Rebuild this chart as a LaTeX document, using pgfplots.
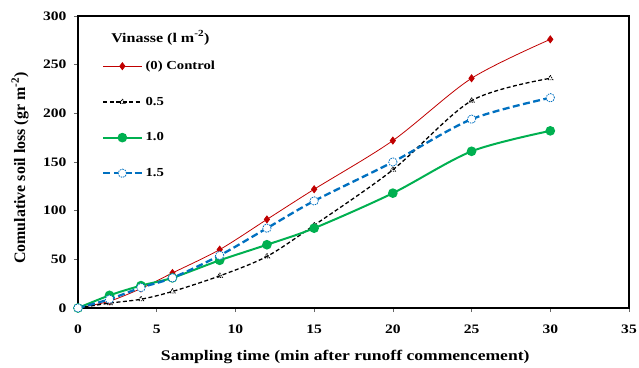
\documentclass[border=0pt]{standalone}
\usepackage{fontspec}
\setmainfont{Liberation Serif}[FakeStretch=1.2]
\newfontfamily\narrowserif{Liberation Serif}
\usepackage{pgfplots}
\pgfplotsset{compat=1.18}
\definecolor{cred}{HTML}{C00000}
\definecolor{cgreen}{HTML}{00B050}
\definecolor{cblue}{HTML}{0070C0}
\begin{document}
\begin{tikzpicture}
\begin{axis}[
  scale only axis,
  width=551bp, height=292bp,
  xmin=0, xmax=35, ymin=0, ymax=300,
  xtick={0,5,...,35}, ytick={0,50,...,300},
  tick align=outside, tick pos=left,
  major tick length=4bp,
  axis line style={line width=1.2pt},
  tick style={black!60, line width=0.6pt},
  /pgf/number format/assume math mode=true,
  font=\bfseries\fontsize{13}{15}\selectfont,
  ticklabel style={font=\bfseries\fontsize{13}{15}\selectfont},
  xticklabel style={yshift=-9bp},
  yticklabel style={xshift=-4bp},
  xlabel={Sampling time (min after runoff commencement)},
  ylabel={Comulative soil loss (gr m\textsuperscript{-2})},
  xlabel style={at={(axis description cs:0.485,-0.168)}, anchor=center, font=\bfseries\fontsize{14.7}{16}\selectfont},
  ylabel style={at={(axis description cs:-0.105,0.479)}, anchor=center, font=\narrowserif\bfseries\fontsize{16}{18}\selectfont},
  legend style={at={(rel axis cs:0.0436,0.846)}, anchor=north west, draw=none, fill=none,
    row sep=26bp, font=\bfseries\fontsize{12.3}{14}\selectfont, inner sep=0pt,
    nodes={inner xsep=3bp, inner ysep=0pt}},
  legend cell align=left,
  legend image code/.code={\draw[mark repeat=2,mark phase=2] plot coordinates {(0bp,0bp)(19bp,0bp)(38bp,0bp)};},
]
\node[anchor=west, font=\bfseries\fontsize{13.4}{15}\selectfont] at (rel axis cs:0.054,0.925) {Vinasse (l m\textsuperscript{-2})};
\addplot[cred, line width=0.8pt, smooth, tension=0.5, mark=diamond*, mark size=3.5pt]
 coordinates {(0,0)(2,7)(4,20)(6,36)(9,60)(12,91)(15,122)(20,172)(25,236)(30,276)};
\addlegendentry{(0) Control}
\addplot[black, line width=1.3pt, dash pattern=on 4pt off 2.5pt, smooth, tension=0.5,
  mark=triangle, mark size=3pt, mark options={solid, dash pattern=on 1.2pt off 1pt, line width=0.9pt}]
 coordinates {(0,0)(2,5)(4,9)(6,17)(9,33)(12,53)(15,85)(20,142)(25,213)(30,236)};
\addlegendentry{0.5}
\addplot[cgreen, line width=2pt, smooth, tension=0.5, mark=*, mark size=3.8pt]
 coordinates {(0,0)(2,13)(4,23)(6,31)(9,49)(12,65)(15,82)(20,118)(25,161)(30,182)};
\addlegendentry{1.0}
\addplot[cblue, line width=2.3pt, dash pattern=on 7pt off 3.5pt, smooth, tension=0.5,
  mark=*, mark size=4.2pt, mark options={fill=white, line width=0.8pt, dash pattern=on 1.5pt off 1pt}]
 coordinates {(0,0)(2,9)(4,21)(6,31)(9,54)(12,82)(15,110)(20,150)(25,194)(30,216)};
\addlegendentry{1.5}
\end{axis}
\pgfresetboundingbox
\path ([shift={(-78bp,-60bp)}]current axis.south west) rectangle ([shift={(10bp,16bp)}]current axis.north east);
\end{tikzpicture}
\end{document}
